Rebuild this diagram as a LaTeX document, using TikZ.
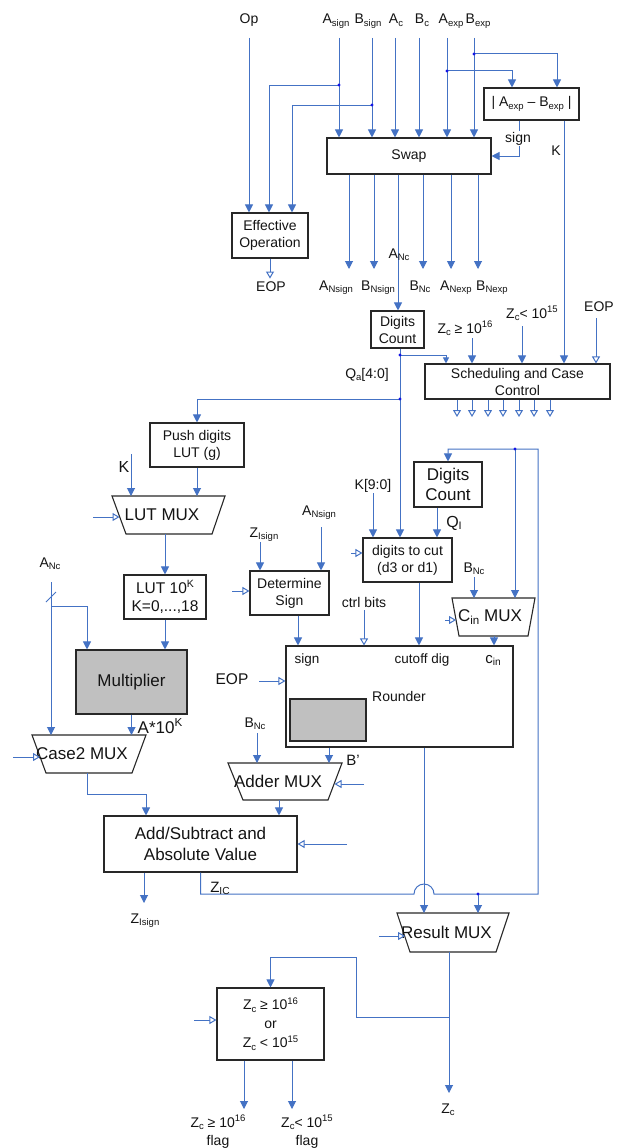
\documentclass[tikz,border=0pt]{standalone}
\usepackage{fontspec}
\setmainfont{Liberation Sans}
\usetikzlibrary{arrows.meta,calc}
\definecolor{wirec}{RGB}{68,114,196}
\definecolor{dotc}{RGB}{20,20,230}
\definecolor{boxc}{RGB}{40,40,40}
\definecolor{txtc}{RGB}{20,20,20}
\definecolor{greyfill}{RGB}{192,192,192}
\newcommand\fsz[2]{\fontsize{#1}{#2}\selectfont}
\newcommand\lo[1]{\raisebox{-0.35ex}{\fontsize{0.68em}{0.8em}\selectfont #1}}
\newcommand\hi[1]{\raisebox{0.7ex}{\fontsize{0.68em}{0.8em}\selectfont #1}}
% trapezoid multiplexer: name, top-left x, top-right x, top y, bottom-left x, bottom-right x, bottom y, text
\newcommand\muxat[8]{%
  \coordinate (#1-tl) at (#2,#4); \coordinate (#1-tr) at (#3,#4);
  \coordinate (#1-bl) at (#5,#7); \coordinate (#1-br) at (#6,#7);
  \draw[muxline] (#1-tl) -- (#1-tr) -- (#1-br) -- (#1-bl) -- cycle;
  \node[lbl,anchor=center,font=\fsz{17}{20}] (#1) at ($(#1-tl)!0.5!(#1-br)$) {#8};}
\begin{document}
\begin{tikzpicture}[x=1pt,y=-1pt,
  box/.style={draw=boxc,line width=1.1pt,fill=white,inner sep=1pt,align=center,text=txtc,font=\fsz{14}{17}},
  wire/.style={draw=wirec,line width=1pt},
  arr/.style={wire,-{Triangle[length=8pt,width=8pt]}},
  arrs/.style={wire,-{Triangle[length=6pt,width=6pt]}},
  oarr/.style={wire,-{Triangle[open,length=7pt,width=8pt,fill=white]}},
  lbl/.style={inner sep=0pt,text=txtc,font=\fsz{14}{17},anchor=base,align=center},
  muxline/.style={draw=boxc,line width=1.1pt,fill=white},
]
\fill[white] (0,0) rectangle (619,1148);
\useasboundingbox (0,0) rectangle (619,1148);

% ---------- blocks ----------
\node[box,minimum width=76,minimum height=45] (effop) at (270,235.5) {Effective\\Operation};
\node[box,minimum width=164,minimum height=36] (swap) at (409,156) {Swap};
\node[box,minimum width=95,minimum height=32] (absdiff) at (531.5,104) {| A\lo{exp} – B\lo{exp} |};
\node[box,minimum width=53,minimum height=37] (dcA) at (397.5,329.5) {Digits\\Count};
\node[box,minimum width=185,minimum height=35] (sched) at (517.5,381.5) {Scheduling and Case\\Control};
\node[box,minimum width=94,minimum height=44] (push) at (197,445) {Push digits\\LUT (g)};
\node[box,minimum width=82,minimum height=44,font=\fsz{15.5}{18}] (lut) at (165,597) {LUT 10\hi{K}\\K=0,...,18};
\node[box,minimum width=79,minimum height=44] (dsign) at (289.5,593) {Determine\\Sign};
\node[box,minimum width=89,minimum height=44] (dcut) at (407.5,560) {digits to cut\\(d3 or d1)};
\node[box,minimum width=68,minimum height=45,font=\fsz{17}{20}] (dcB) at (448,484.5) {Digits\\Count};
\node[box,minimum width=227,minimum height=101] (rnd) at (399.5,696.5) {};
\node[box,fill=greyfill,minimum width=76,minimum height=42] (rndcore) at (328,720) {};
\node[box,fill=greyfill,minimum width=111,minimum height=64,font=\fsz{17}{20}] (mult) at (131.5,682) {Multiplier};
\node[box,minimum width=193,minimum height=56,font=\fsz{17}{21}] (addsub) at (200.5,844) {Add/Subtract and\\Absolute Value};
\node[box,minimum width=107,minimum height=72,font=\fsz{14}{19}] (zcbox) at (270.5,1024) {Z\lo{c} ≥ 10\hi{16}\\or\\Z\lo{c} < 10\hi{15}};

% rounder field names
\node[lbl,font=\fsz{13.5}{16}] (rsign) at (307,663) {sign};
\node[lbl,font=\fsz{13.5}{16}] (rcut) at (422,663) {cutoff dig};
\node[lbl,font=\fsz{15}{17}] (rcin) at (493,663) {c\lo{in}};
\node[lbl] (rname) at (399,701) {Rounder};

% multiplexers
\muxat{lmux}{112}{225}{496}{126}{212}{534}{LUT MUX}
\muxat{c2mux}{32}{146}{735}{46}{132}{773}{Case2 MUX}
\muxat{amux}{228}{342}{763}{243}{328}{800}{Adder MUX}
\muxat{cmux}{452}{535}{598}{459}{528}{636}{C\lo{in} MUX}
\muxat{rmux}{397}{509}{913}{410}{496}{952}{Result MUX}

% ---------- primary inputs ----------
\node[lbl] (opL) at (249,24) {Op};
\node[lbl] (asL) at (336,24) {A\lo{sign}};
\node[lbl] (bsL) at (368,24) {B\lo{sign}};
\node[lbl] (acL) at (396,24) {A\lo{c}};
\node[lbl] (bcL) at (422,24) {B\lo{c}};
\node[lbl] (aeL) at (451,24) {A\lo{exp}};
\node[lbl] (beL) at (478,24) {B\lo{exp}};
\coordinate (opS) at (249,38);
\coordinate (asS) at (339,38);
\coordinate (bsS) at (372,38);
\coordinate (acS) at (395,38);
\coordinate (bcS) at (419,38);
\coordinate (aeS) at (447,38);
\coordinate (beS) at (474,38);
\draw[arr] (opS) -- (opS |- effop.north);
\foreach \p in {asS,bsS,acS,bcS,aeS,beS} \draw[arr] (\p) -- (\p |- swap.north);

\coordinate (jAs) at (339,85);
\coordinate (jBs) at (372,105);
\coordinate (jAe) at (447,71);
\coordinate (jBe) at (474,54);
\draw[arr] (jAs) -| (269,0 |- effop.north);
\draw[arr] (jBs) -| (292,0 |- effop.north);
\draw[arr] (jAe) -| (512,0 |- absdiff.north);
\draw[arr] (jBe) -| (557,0 |- absdiff.north);

% exponent difference outputs
\draw[arr] (absdiff.south -| 519,0) |- (swap.east);
\node[lbl,fill=white,inner sep=1pt] (signL) at (518,142) {sign};
\draw[arr] (absdiff.south -| 564,0) -- (564,0 |- sched.north);
\node[lbl] (kL) at (556,155.5) {K};

% effective operation
\draw[oarr] (effop.south) -- ++(0,20);
\node[lbl] (eopA) at (271,291) {EOP};

% swap outputs
\foreach \x in {349,374,423,451,478} \draw[arr] (swap.south -| \x,0) -- (\x,269);
\draw[arr] (swap.south -| 398,0) -- (398,0 |- dcA.north);
\node[lbl] (anS) at (336,290) {A\lo{Nsign}};
\node[lbl] (bnS) at (378,290) {B\lo{Nsign}};
\node[lbl] (bncA) at (420,290) {B\lo{Nc}};
\node[lbl] (aneL) at (456,290) {A\lo{Nexp}};
\node[lbl] (bneL) at (492,290) {B\lo{Nexp}};
\node[lbl] (ancA) at (399,258) {A\lo{Nc}};

% leading digit count of A
\coordinate (jQ1) at (400,355);
\coordinate (jQ2) at (400,399);
\draw[wire] (dcA.south -| 400,0) -- (jQ2);
\draw[arrs] (jQ1) -| (446,0 |- sched.north);
\draw[arr] (jQ2) -| (push.north);
\draw[arr] (jQ2) -- (400,0 |- dcut.north);
\node[lbl] (qaL) at (367,378) {Q\lo{a}[4:0]};

% scheduling inputs and control outputs
\draw[arr] (472,338) -- (472,0 |- sched.north);
\node[lbl] (zgeL) at (465,333) {Z\lo{c} ≥ 10\hi{16}};
\draw[arr] (522,326) -- (522,0 |- sched.north);
\node[lbl] (zltL) at (532,318) {Z\lo{c}< 10\hi{15}};
\draw[oarr] (596,318) -- (596,0 |- sched.north);
\node[lbl] (eopB) at (599,311) {EOP};
\foreach \x in {457,472,488,503,519,534,550} \draw[oarr] (sched.south -| \x,0) -- (\x,417);

% shift amount path
\draw[arr] (push.south) -- (push.south |- lmux-tl);
\draw[arr] (131,454) -- (131,0 |- lmux-tl);
\node[lbl,font=\fsz{16}{19}] (kB) at (124,472) {K};
\draw[oarr] (93,517) -- (119.5,517);
\draw[arr] (165,0 |- lmux-bl) -- (lut.north);
\draw[arr] (lut.south) -- (lut.south |- mult.north);

% operand A into multiplier / case 2 mux
\node[lbl] (ancB) at (50,567) {A\lo{Nc}};
\draw[arr] (51,582) -- (51,0 |- c2mux-tl);
\draw[wire] (46,602) -- (56,592);
\draw[arr] (51,606) -| (87,0 |- mult.north);
\draw[arr] (mult.south) -- (mult.south |- c2mux-tl);
\node[lbl,font=\fsz{17}{20}] (a10k) at (160,733) {A*10\hi{K}};
\draw[oarr] (13,757) -- (40,757);
\draw[arr] (87,0 |- c2mux-bl) |- (146,794) -- (146,0 |- addsub.north);

% sign determination
\draw[arr] (260,542) -- (260,0 |- dsign.north);
\node[lbl] (zisA) at (264,537) {Z\lo{Isign}};
\draw[arr] (321,527) -- (321,0 |- dsign.north);
\node[lbl] (ansB) at (319,515) {A\lo{Nsign}};
\draw[oarr] (232,591) -- (dsign.west |- 0,591);
\draw[arr] (dsign.south -| 298,0) -- (298,0 |- rnd.north);
\draw[oarr] (364,610) -- (364,0 |- rnd.north);
\node[lbl] (ctrlL) at (364,607) {ctrl bits};

% digits to cut
\draw[arr] (373,493) -- (373,0 |- dcut.north);
\node[lbl] (k90) at (373,489) {K[9:0]};
\draw[oarr] (351,553) -- (dcut.west |- 0,553);
\draw[arr] (dcB.south -| 437,0) -- (437,0 |- dcut.north);
\node[lbl,font=\fsz{16}{19}] (qiL) at (454,527) {Q\lo{I}};
\draw[arr] (dcut.south -| 419,0) -- (419,0 |- rnd.north);

% carry-in mux
\draw[arr] (474,577) -- (474,0 |- cmux-tl);
\node[lbl] (bncB) at (474,572) {B\lo{Nc}};
\draw[oarr] (445,620) -- (456,620);
\draw[arr] (494,0 |- cmux-bl) -- (494,0 |- rnd.north);

% rounder and adder mux
\draw[oarr] (259,681) -- (rnd.west |- 0,681);
\node[lbl,font=\fsz{15.5}{18}] (eopC) at (232,684) {EOP};
\draw[arr] (257,733) -- (257,0 |- amux-tl);
\node[lbl] (bncC) at (255,727) {B\lo{Nc}};
\draw[arr] (rnd.south -| 329,0) -- (329,0 |- amux-tl);
\node[lbl,font=\fsz{15}{18}] (bpL) at (353,765) {B’};
\draw[oarr] (364,784) -- (334.5,784);
\draw[arr] (279,0 |- amux-bl) -- (279,0 |- addsub.north);
\draw[oarr] (347,844) -- (addsub.east);

% adder outputs
\draw[arr] (144,0 |- addsub.south) -- (144,903);
\node[lbl] (zisB) at (145,923) {Z\lo{Isign}};
\draw[arr] (addsub.south) |- (414,894) arc[start angle=180,end angle=360,radius=10] -- (538,894) |- (dcB.north |- 0,449) -- (dcB.north);
\node[lbl,font=\fsz{15}{18}] (zicL) at (220,892) {Z\lo{IC}};
\coordinate (jR) at (478,894);
\coordinate (jC) at (515,449);
\draw[arr] (jR) -- (478,0 |- rmux-tl);
\draw[arr] (jC) -- (515,0 |- cmux-tl);
\draw[arr] (rnd.south -| 424,0) -- (424,0 |- rmux-tl);

% result selection and range flags
\draw[oarr] (379,936) -- (405,936);
\draw[arr] (449,0 |- rmux-bl) -- (449,1093);
\node[lbl] (zcL) at (448,1113) {Z\lo{c}};
\draw[arr] (449,1017) -| (356,957) -| (zcbox.north);
\draw[oarr] (194,1020) -- (zcbox.west |- 0,1020);
\draw[arr] (zcbox.south -| 244,0) -- (244,1109);
\draw[arr] (zcbox.south -| 292,0) -- (292,1109);
\node[lbl,font=\fsz{14}{18}] (flagA) at (218,1145) {Z\lo{c} ≥ 10\hi{16}\\flag};
\node[lbl,font=\fsz{14}{18}] (flagB) at (307,1145) {Z\lo{c}< 10\hi{15}\\flag};

% junction dots
\foreach \j in {jAs,jBs,jAe,jBe,jQ1,jQ2,jR,jC} \fill[dotc] (\j) circle (1.6);
\end{tikzpicture}
\end{document}
